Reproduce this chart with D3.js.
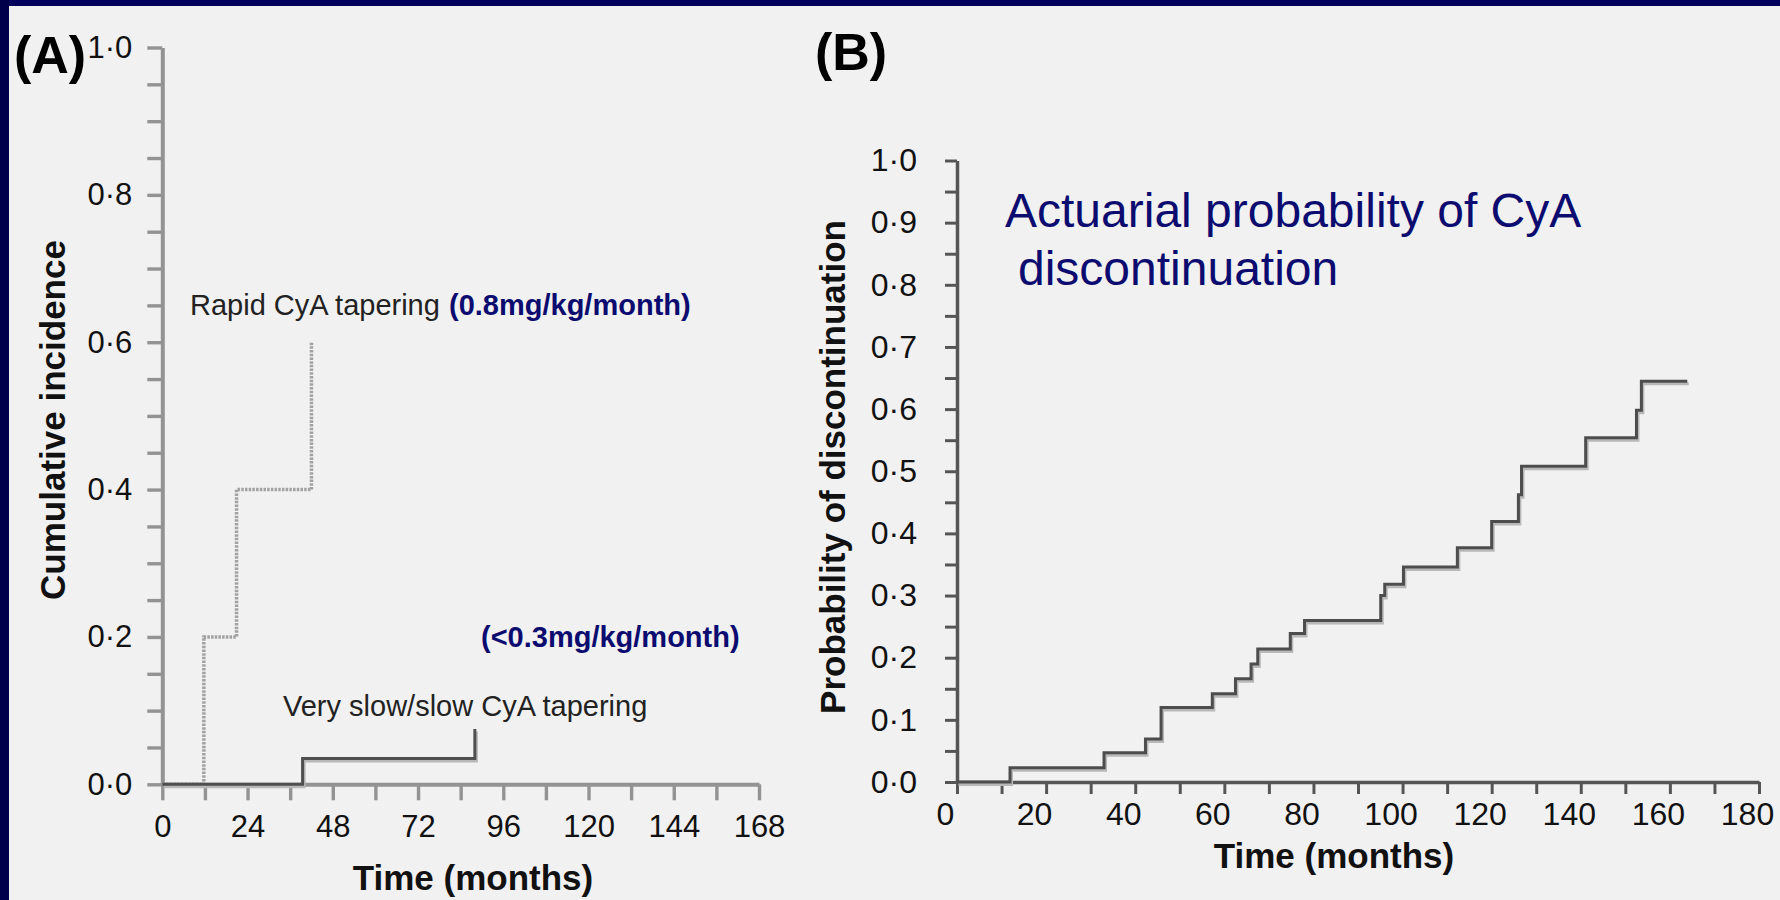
<!DOCTYPE html>
<html><head><meta charset="utf-8">
<script src="https://cdn.jsdelivr.net/npm/d3@7"></script>
<style>
html,body{margin:0;padding:0;background:#f1f1f1;overflow:hidden}
text{font-family:"Liberation Sans",Arial,Helvetica,sans-serif}
</style>
</head><body>
<svg id="c" width="1780" height="900"></svg>
<script>
// ---------- data ----------
const rapidTime = [0, 11.7, 20.9, 42.0];
const rapidCI   = [0, 0.2, 0.4, 0.6];
const slowTime  = [0, 39.5, 88.0];
const slowCI    = [0, 0.035, 0.075];

const discTime = [0, 11.9, 33.0, 42.3, 45.8, 57.3, 62.5, 66.0, 67.5, 74.8, 78.0, 95.1, 96.0, 100.2, 112.3, 120.0, 126.0, 126.7, 141.1, 152.5, 153.6, 163.9];
const discProb = [0, 0.023, 0.047, 0.069, 0.12, 0.142, 0.166, 0.19, 0.214, 0.239, 0.26, 0.30, 0.318, 0.346, 0.377, 0.419, 0.462, 0.508, 0.554, 0.598, 0.645, 0.645];

const xTickValuesA = [0,12,24,36,48,60,72,84,96,108,120,132,144,156,168];
const xLabelValuesA = [0,24,48,72,96,120,144,168];
const xTickLabelsA = ["0","24","48","72","96","120","144","168"];
const yTickValuesA = [0,0.05,0.1,0.15,0.2,0.25,0.3,0.35,0.4,0.45,0.5,0.55,0.6,0.65,0.7,0.75,0.8,0.85,0.9,0.95,1.0];
const yLabelValuesA = [0,0.2,0.4,0.6,0.8,1.0];
const yTickLabelsA = ["0·0","0·2","0·4","0·6","0·8","1·0"];

const xTickValuesB = [0,10,20,30,40,50,60,70,80,90,100,110,120,130,140,150,160,170,180];
const xLabelValuesB = [0,20,40,60,80,100,120,140,160,180];
const xTickLabelsB = ["0","20","40","60","80","100","120","140","160","180"];
const yTickValuesB = [0,0.05,0.1,0.15,0.2,0.25,0.3,0.35,0.4,0.45,0.5,0.55,0.6,0.65,0.7,0.75,0.8,0.85,0.9,0.95,1.0];
const yLabelValuesB = [0,0.1,0.2,0.3,0.4,0.5,0.6,0.7,0.8,0.9,1.0];
const yTickLabelsB = ["0·0","0·1","0·2","0·3","0·4","0·5","0·6","0·7","0·8","0·9","1·0"];

// ---------- helpers ----------
function labeller(values, labels){
  return d => {
    const i = values.findIndex(v => Math.abs(v - d) < 1e-9);
    return i >= 0 ? labels[i] : "";
  };
}

const svg = d3.select("#c");
svg.append("rect").attr("x",0).attr("y",0).attr("width",1780).attr("height",900).attr("fill","#f1f1f1");
svg.append("rect").attr("x",0).attr("y",0).attr("width",1780).attr("height",6).attr("fill","#00005c");
svg.append("rect").attr("x",0).attr("y",0).attr("width",9).attr("height",900).attr("fill","#00004a");

function styleAxis(g, color, width, fontSize){
  g.select(".domain").attr("stroke", color).attr("stroke-width", width);
  g.selectAll(".tick line").attr("stroke", color).attr("stroke-width", width*0.85);
  g.selectAll(".tick text").attr("fill","#111").attr("font-size", fontSize)
    .attr("font-family","'Liberation Sans',Arial,sans-serif");
}

// ---------- Panel A ----------
const xA = d3.scaleLinear().domain([0,168]).range([162.3, 759]);
const yA = d3.scaleLinear().domain([0,1]).range([784.3, 47.5]);

const gA = svg.append("g");
const axYA = gA.append("g").attr("transform",`translate(${xA(0)},0)`)
  .call(d3.axisLeft(yA).tickValues(yTickValuesA).tickSize(15).tickSizeOuter(0).tickPadding(15)
    .tickFormat(labeller(yLabelValuesA, yTickLabelsA)));
styleAxis(axYA, "#939393", 4, 31);
const axXA = gA.append("g").attr("transform",`translate(0,${yA(0)})`)
  .call(d3.axisBottom(xA).tickValues(xTickValuesA).tickSize(16).tickSizeOuter(0).tickPadding(15)
    .tickFormat(labeller(xLabelValuesA, xTickLabelsA)));
styleAxis(axXA, "#939393", 4, 31);

const lineA = d3.line().x(d => xA(d[0])).y(d => yA(d[1])).curve(d3.curveStepAfter);
const rapidPts = rapidTime.map((t,i) => [t, rapidCI[i]]);
const slowPts = slowTime.map((t,i) => [t, slowCI[i]]);
gA.append("path").attr("d", lineA(rapidPts)).attr("fill","none")
  .attr("stroke","#a2a2a2").attr("stroke-width",3.5).attr("stroke-dasharray","2.5,1.2");
gA.append("path").attr("d", lineA(slowPts)).attr("fill","none").attr("transform","translate(1.5,2.5)")
  .attr("stroke","#b8b8b8").attr("stroke-width",3);
gA.append("path").attr("d", lineA(slowPts)).attr("fill","none")
  .attr("stroke","#4f4f4f").attr("stroke-width",3);

gA.append("text").attr("x",14).attr("y",73).attr("font-size",52).attr("font-weight","bold").attr("fill","#000").text("(A)");
gA.append("text").attr("transform","translate(65,420) rotate(-90)").attr("text-anchor","middle")
  .attr("font-size",35).attr("font-weight","bold").attr("fill","#111").text("Cumulative incidence");
gA.append("text").attr("x",473).attr("y",890).attr("text-anchor","middle")
  .attr("font-size",35).attr("font-weight","bold").attr("fill","#111").text("Time (months)");
gA.append("text").attr("x",190).attr("y",315).attr("font-size",29).attr("fill","#222").text("Rapid CyA tapering");
gA.append("text").attr("x",449).attr("y",315).attr("font-size",29).attr("font-weight","bold").attr("fill","#0c0c70").text("(0.8mg/kg/month)");
gA.append("text").attr("x",481).attr("y",647).attr("font-size",29).attr("font-weight","bold").attr("fill","#0c0c70").text("(<0.3mg/kg/month)");
gA.append("text").attr("x",283).attr("y",716).attr("font-size",29).attr("fill","#222").text("Very slow/slow CyA tapering");

// ---------- Panel B ----------
const xB = d3.scaleLinear().domain([0,180]).range([957, 1759]);
const yB = d3.scaleLinear().domain([0,1]).range([782, 160.5]);

const gB = svg.append("g");
const axYB = gB.append("g").attr("transform",`translate(${xB(0)},0)`)
  .call(d3.axisLeft(yB).tickValues(yTickValuesB).tickSize(12).tickSizeOuter(0).tickPadding(28)
    .tickFormat(labeller(yLabelValuesB, yTickLabelsB)));
styleAxis(axYB, "#555", 3.5, 32);
const axXB = gB.append("g").attr("transform",`translate(0,${yB(0)})`)
  .call(d3.axisBottom(xB).tickValues(xTickValuesB).tickSize(12).tickSizeOuter(0).tickPadding(8)
    .tickFormat(labeller(xLabelValuesB, xTickLabelsB)));
styleAxis(axXB, "#555", 3.5, 32);
axXB.selectAll(".tick text").attr("x",-12);

const lineB = d3.line().x(d => xB(d[0])).y(d => yB(d[1])).curve(d3.curveStepAfter);
const discPts = discTime.map((t,i) => [t, discProb[i]]);
gB.append("path").attr("d", lineB(discPts)).attr("fill","none").attr("transform","translate(1.5,2.5)")
  .attr("stroke","#b8b8b8").attr("stroke-width",3);
gB.append("path").attr("d", lineB(discPts)).attr("fill","none")
  .attr("stroke","#4d4d4d").attr("stroke-width",3);

gB.append("text").attr("x",815).attr("y",70).attr("font-size",52).attr("font-weight","bold").attr("fill","#000").text("(B)");
gB.append("text").attr("transform","translate(845,467) rotate(-90)").attr("text-anchor","middle")
  .attr("font-size",35).attr("font-weight","bold").attr("fill","#111").text("Probability of discontinuation");
gB.append("text").attr("x",1334).attr("y",868).attr("text-anchor","middle")
  .attr("font-size",35).attr("font-weight","bold").attr("fill","#111").text("Time (months)");
gB.append("text").attr("x",1005).attr("y",227).attr("font-size",48).attr("fill","#0c0c70").text("Actuarial probability of CyA");
gB.append("text").attr("x",1018).attr("y",285).attr("font-size",48).attr("fill","#0c0c70").text("discontinuation");
</script>
</body></html>
